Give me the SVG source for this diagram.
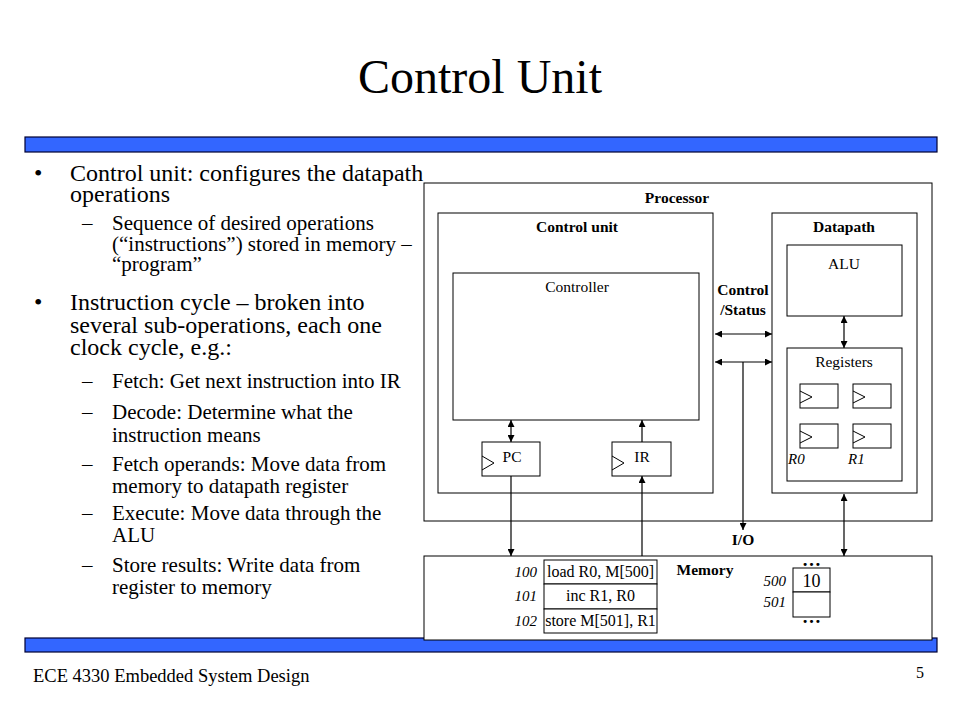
<svg xmlns="http://www.w3.org/2000/svg" width="960" height="720" viewBox="0 0 960 720">
<style>
text{font-family:"Liberation Serif","Times New Roman",serif;fill:#000}
.title{font-size:48px}
.b1{font-size:24px}
.b2{font-size:21px}
.lbl{font-size:15.5px;font-weight:bold}
.n{font-size:15.5px}
.it{font-size:15px;font-style:italic}
.box{fill:#fff;stroke:#000;stroke-width:1}
.bar{fill:#3366ff;stroke:#000033;stroke-width:1.2}
.ln{stroke:#000;stroke-width:1.2;fill:none}
.ck{stroke:#000;stroke-width:1;fill:none}
</style>
<defs>
<marker id="ah" viewBox="0 0 10 10" refX="10" refY="5" markerWidth="7" markerHeight="7" orient="auto-start-reverse" markerUnits="userSpaceOnUse">
<path d="M0,0 L10,5 L0,10 z" fill="#000"/>
</marker>
</defs>
<rect width="960" height="720" fill="#fff"/>
<text class="title" x="480" y="93" text-anchor="middle">Control Unit</text>
<rect class="bar" x="25" y="137" width="912" height="15"/>
<rect class="bar" x="25" y="638" width="912" height="14"/>
<g id="bullets">
<text class="b1" x="34" y="181">•</text>
<text class="b1" x="70" y="181">Control unit: configures the datapath</text>
<text class="b1" x="70" y="202">operations</text>
<text class="b2" x="82" y="230">–</text>
<text class="b2" x="112" y="230">Sequence of desired operations</text>
<text class="b2" x="112" y="251">(“instructions”) stored in memory –</text>
<text class="b2" x="112" y="271">“program”</text>
<text class="b1" x="34" y="310">•</text>
<text class="b1" x="70" y="310">Instruction cycle – broken into</text>
<text class="b1" x="70" y="333">several sub-operations, each one</text>
<text class="b1" x="70" y="355">clock cycle, e.g.:</text>
<text class="b2" x="82" y="388">–</text>
<text class="b2" x="112" y="388">Fetch: Get next instruction into IR</text>
<text class="b2" x="82" y="419">–</text>
<text class="b2" x="112" y="419">Decode: Determine what the</text>
<text class="b2" x="112" y="442">instruction means</text>
<text class="b2" x="82" y="471">–</text>
<text class="b2" x="112" y="471">Fetch operands: Move data from</text>
<text class="b2" x="112" y="493">memory to datapath register</text>
<text class="b2" x="82" y="520">–</text>
<text class="b2" x="112" y="520">Execute: Move data through the</text>
<text class="b2" x="112" y="542">ALU</text>
<text class="b2" x="82" y="572">–</text>
<text class="b2" x="112" y="572">Store results: Write data from</text>
<text class="b2" x="112" y="594">register to memory</text>
</g>
<g id="processor">
<rect class="box" x="424" y="183" width="508" height="338"/>
<text class="lbl" x="677" y="203" text-anchor="middle">Processor</text>
</g>
<g id="control-unit">
<rect class="box" x="438" y="213" width="275" height="280"/>
<text class="lbl" x="577" y="232" text-anchor="middle">Control unit</text>
</g>
<g id="datapath">
<rect class="box" x="772" y="213" width="145" height="280"/>
<text class="lbl" x="844" y="232" text-anchor="middle">Datapath</text>
</g>
<g id="controller">
<rect class="box" x="453" y="273" width="246" height="147"/>
<text class="n" x="577" y="292" text-anchor="middle">Controller</text>
</g>
<g id="pc">
<rect class="box" x="482" y="442" width="58" height="34"/>
<polyline class="ck" points="482,456 494,463 482,470"/>
<text class="n" x="512" y="462" text-anchor="middle">PC</text>
</g>
<g id="ir">
<rect class="box" x="612" y="442" width="59" height="34"/>
<polyline class="ck" points="612,456 624,463 612,470"/>
<text class="n" x="642" y="462" text-anchor="middle">IR</text>
</g>
<g id="alu">
<rect class="box" x="787" y="245" width="115" height="71"/>
<text class="n" x="844" y="269" text-anchor="middle">ALU</text>
</g>
<g id="registers">
<rect class="box" x="787" y="348" width="115" height="133"/>
<text class="n" x="844" y="367" text-anchor="middle">Registers</text>
<rect class="box" x="800" y="384" width="38" height="24"/>
<polyline class="ck" points="800,391 812,397 800,403"/>
<rect class="box" x="853" y="384" width="38" height="24"/>
<polyline class="ck" points="853,391 865,397 853,403"/>
<rect class="box" x="800" y="424" width="38" height="24"/>
<polyline class="ck" points="800,431 812,437 800,443"/>
<rect class="box" x="853" y="424" width="38" height="24"/>
<polyline class="ck" points="853,431 865,437 853,443"/>
<text class="it" x="788" y="464">R0</text>
<text class="it" x="848" y="464">R1</text>
</g>
<g id="control-status-label">
<text class="lbl" x="743" y="295" text-anchor="middle">Control</text>
<text class="lbl" x="743" y="315" text-anchor="middle">/Status</text>
</g>
<g id="io-label">
<text class="lbl" x="743" y="545" text-anchor="middle">I/O</text>
</g>
<g id="memory">
<rect class="box" x="424" y="556" width="508" height="84"/>
<text class="lbl" x="705" y="575" text-anchor="middle">Memory</text>
<rect class="box" x="544" y="560" width="113" height="24"/>
<rect class="box" x="544" y="584" width="113" height="25"/>
<rect class="box" x="544" y="609" width="113" height="24"/>
<text class="n" x="600.5" y="577" text-anchor="middle" style="font-size:16px">load R0, M[500]</text>
<text class="n" x="600.5" y="601" text-anchor="middle" style="font-size:16px">inc R1, R0</text>
<text class="n" x="600.5" y="626" text-anchor="middle" style="font-size:16px">store M[501], R1</text>
<text class="it" x="537" y="577" text-anchor="end">100</text>
<text class="it" x="537" y="601" text-anchor="end">101</text>
<text class="it" x="537" y="626" text-anchor="end">102</text>
<rect class="box" x="793" y="568" width="37" height="24"/>
<rect class="box" x="793" y="592" width="37" height="25"/>
<text class="n" x="811.5" y="587" text-anchor="middle" style="font-size:18px">10</text>
<text class="it" x="786" y="586" text-anchor="end">500</text>
<text class="it" x="786" y="607" text-anchor="end">501</text>
<text x="811.5" y="566" text-anchor="middle" style="font-size:19px;font-weight:bold">…</text>
<text x="811.5" y="623" text-anchor="middle" style="font-size:19px;font-weight:bold">…</text>
</g>
<g id="connectors">
<line class="ln" x1="715" y1="334" x2="772" y2="334" marker-start="url(#ah)" marker-end="url(#ah)"/>
<line class="ln" x1="715" y1="362" x2="772" y2="362" marker-start="url(#ah)" marker-end="url(#ah)"/>
<line class="ln" x1="743" y1="362" x2="743" y2="530" marker-end="url(#ah)"/>
<line class="ln" x1="844" y1="316" x2="844" y2="348" marker-start="url(#ah)" marker-end="url(#ah)"/>
<line class="ln" x1="844" y1="494" x2="844" y2="556" marker-start="url(#ah)" marker-end="url(#ah)"/>
<line class="ln" x1="511" y1="420" x2="511" y2="442" marker-start="url(#ah)" marker-end="url(#ah)"/>
<line class="ln" x1="511" y1="476" x2="511" y2="556" marker-end="url(#ah)"/>
<line class="ln" x1="642" y1="442" x2="642" y2="420" marker-end="url(#ah)"/>
<line class="ln" x1="642" y1="556" x2="642" y2="476" marker-end="url(#ah)"/>
</g>
<g id="footer">
<text x="33" y="682" style="font-size:18.5px">ECE 4330 Embedded System Design</text>
<text x="924" y="678" text-anchor="end" style="font-size:16px">5</text>
</g>
</svg>
